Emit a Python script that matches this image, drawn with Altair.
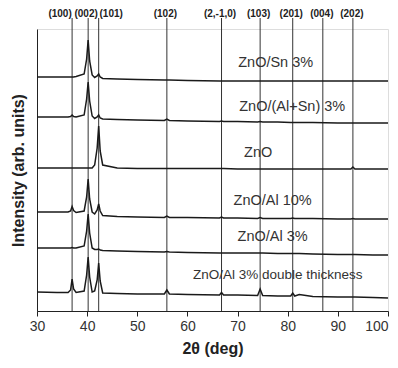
import altair as alt
import pandas as pd

# 2-theta sampling positions (deg)
two_theta = [30, 34, 36.2, 36.7, 37, 37.3, 37.8, 39.4, 39.9, 40.2, 40.5, 41.0, 41.5,
             42.0, 42.3, 42.6, 43.1, 46, 50, 55.4, 55.9, 56.4, 60, 66.4, 66.8, 67.2,
             70, 74.0, 74.5, 75.0, 78, 80.6, 81.0, 81.4, 82.3, 85, 90, 92.6, 93, 93.4,
             97, 100]

# offset intensities (arb. units)
s_sn3 = [234, 234, 234, 234, 234, 234, 234.5, 237, 252, 271, 250, 236, 233.5,
         235, 237, 234, 232.5, 232, 231.5, 231, 231, 231, 230.5, 230, 230, 230,
         230, 230, 230, 230, 230, 230, 230, 230, 230, 230, 230, 230, 230, 230,
         230, 230]
s_alsn3 = [194, 194, 194, 194.5, 196, 194.5, 194, 196, 212, 229, 210, 195, 192.5,
           194, 196, 193, 192, 191.5, 191, 190.5, 192, 190.5, 190, 189.5, 190, 189.5,
           189.5, 189, 189.5, 189, 189, 188.5, 188.5, 188.5, 188.5, 188.5, 188, 188, 188, 188,
           188, 188]
s_zno = [143, 143, 143, 143, 143, 143, 143, 143, 143, 143, 143, 143, 146,
         163, 185, 160, 146, 143, 142.5, 142.5, 142.5, 142.5, 142.5, 142.5, 142.5, 142.5,
         142, 142, 142, 142, 142, 142, 142, 142, 142, 142, 142, 142, 144, 142,
         142, 142]
s_al10 = [99, 99, 99, 100, 104.5, 100.5, 98.5, 100, 114, 132, 112, 99, 97,
          101, 107, 100, 95.5, 94.5, 94, 93.5, 95, 93.5, 93.5, 93, 94, 93,
          93, 92.5, 93.5, 92.5, 92.5, 92.5, 93, 92.5, 92.5, 92.5, 92, 92, 92.5, 92,
          92, 92]
s_al3 = [63, 63, 63, 63, 63.5, 63, 63, 65, 80, 97, 78, 63, 61.5,
         61.5, 62, 61, 60.5, 60, 59.5, 59, 59.5, 59, 58.5, 58, 58, 58,
         58, 58, 58, 58, 57.5, 57.5, 57.5, 57.5, 57.5, 57, 56.5, 56.5, 56.5, 56.5,
         56, 56]
s_al3_double = [19, 18.5, 18.5, 21, 32, 22, 18.5, 20, 36, 54, 34, 19, 20,
                31, 48, 30, 18, 17.5, 17, 17, 21, 17, 16.5, 16, 18.5, 16,
                16, 15.5, 22, 15.5, 15, 15, 18, 15, 16.5, 14.5, 14, 14, 14, 14,
                13.5, 13]

series_names = ["ZnO/Sn 3%", "ZnO/(Al+Sn) 3%", "ZnO", "ZnO/Al 10%", "ZnO/Al 3%",
                "ZnO/Al 3% double thickness"]
series_values = [s_sn3, s_alsn3, s_zno, s_al10, s_al3, s_al3_double]
label_x = [77.6, 80.9, 74.1, 77.0, 77.0, 78.0]
label_y = [247.7, 204.3, 157.7, 110.3, 74.3, 36.0]
label_size = [14.5, 14.5, 14.5, 14.5, 14.5, 13.5]

# reflection positions and labels
refl_pos = [37.0, 40.2, 42.3, 55.9, 66.8, 74.5, 81.0, 87.0, 93.0]
refl_names = ["(100)", "(002)", "(101)", "(102)", "(2,-1,0)", "(103)", "(201)", "(004)", "(202)"]
refl_label_x = [34.6, 39.8, 44.8, 55.6, 66.5, 74.2, 80.7, 86.8, 92.8]

rows = []
for name, vals in zip(series_names, series_values):
    for x, y in zip(two_theta, vals):
        rows.append({"series": name, "x": x, "y": y})
df = pd.DataFrame(rows)

lab_df = pd.DataFrame({"name": series_names, "x": label_x, "y": label_y, "size": label_size})
refl_df = pd.DataFrame({"name": refl_names, "pos": refl_pos, "lx": refl_label_x})

FONT = "Liberation Sans"
W, H = 351, 282

xscale = alt.Scale(domain=[30, 100], nice=False)
yscale = alt.Scale(domain=[0, 282], nice=False)

tick_vals = [30, 35, 40, 45, 50, 55, 60, 65, 70, 75, 80, 85, 90, 95, 100]

lines = alt.Chart(df).mark_line(color="#1a1a1a", strokeWidth=1.5).encode(
    x=alt.X("x:Q", scale=xscale,
            axis=alt.Axis(title="2θ (deg)", values=tick_vals,
                          labelExpr="datum.value % 10 == 0 ? datum.label : ''",
                          labelAlign=alt.ExprRef(expr="datum.value == 100 ? 'right' : 'center'"),
                          grid=False, tickSize=5, tickColor="#222", domainColor="#222",
                          labelFontSize=14, labelColor="#333", labelFont=FONT, labelPadding=3,
                          labelFlush=False,
                          titleFontSize=16, titleFont=FONT, titleFontWeight="bold",
                          titleColor="#222", titlePadding=7)),
    y=alt.Y("y:Q", scale=yscale,
            axis=alt.Axis(title="Intensity (arb. units)", labels=False, ticks=False,
                          grid=False, domainColor="#222",
                          titleFontSize=16, titleFont=FONT, titleFontWeight="bold",
                          titleColor="#222", titlePadding=11)),
    detail="series:N",
)

rules = alt.Chart(refl_df).mark_rule(color="#333", strokeWidth=1).encode(
    x=alt.X("pos:Q", scale=xscale),
    y=alt.value(-11),
    y2=alt.value(H),
)

refl_text = alt.Chart(refl_df).mark_text(
    font=FONT, fontSize=10, fontWeight="bold", color="#222", baseline="middle"
).encode(
    x=alt.X("lx:Q", scale=xscale),
    y=alt.value(-15),
    text="name:N",
)

labels = alt.Chart(lab_df).mark_text(
    font=FONT, color="#333", baseline="middle", align="center"
).encode(
    x=alt.X("x:Q", scale=xscale),
    y=alt.Y("y:Q", scale=yscale),
    text="name:N",
    size=alt.Size("size:Q", scale=None, legend=None),
)

chart = alt.layer(rules, lines, labels, refl_text).properties(
    width=W, height=H,
    autosize=alt.AutoSizeParams(type="none"),
    padding={"left": 29, "top": 21, "right": 2, "bottom": 46},
).configure_view(
    stroke="#222", strokeWidth=1
).configure(background="white")

chart.save("out.html", embed_options={"renderer": "svg", "actions": False})
